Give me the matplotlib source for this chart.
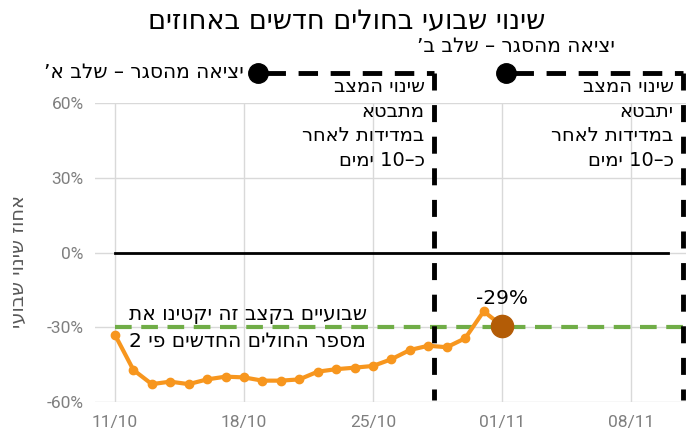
import re
import numpy as np
import pandas as pd
import matplotlib
matplotlib.use('Agg')
import matplotlib.pyplot as plt
import matplotlib.dates as mdates

# weekly change in new cases (%), 11/10 .. 01/11
dates = ['11/10', '12/10', '13/10', '14/10', '15/10', '16/10', '17/10', '18/10',
         '19/10', '20/10', '21/10', '22/10', '23/10', '24/10', '25/10', '26/10',
         '27/10', '28/10', '29/10', '30/10', '31/10', '01/11']
weekly_change = [-33.0, -47.1, -52.8, -51.8, -52.8, -50.9, -49.8, -50.1,
                 -51.4, -51.4, -50.9, -47.8, -46.8, -46.2, -45.5, -42.8,
                 -39.1, -37.4, -38.0, -34.4, -23.6, -29.4]
zero_dates = ['11/10', '10/11']
target_dates = ['11/10', '12/11']
target_value = -30
tick_dates = ['11/10', '18/10', '25/10', '01/11', '08/11']
y_ticks = [-60, -30, 0, 30, 60]

title = 'שינוי שבועי בחולים חדשים באחוזים'
ylabel = 'אחוז שינוי שבועי'
phase_labels = ['יציאה מהסגר – שלב א’', 'יציאה מהסגר – שלב ב’']
box_texts = [['שינוי המצב', 'מתבטא', 'במדידות לאחר', 'כ–10 ימים'],
             ['שינוי המצב', 'יתבטא', 'במדידות לאחר', 'כ–10 ימים']]
target_text = ['שבועיים בקצב זה יקטינו את', 'מספר החולים החדשים פי 2']


def heb(s):
    # no bidi in matplotlib: flip the string, keep numbers readable
    return re.sub(r'\d+', lambda m: m.group()[::-1], s[::-1])


def to_num(ds):
    return mdates.date2num(pd.to_datetime([d + '/2020' for d in ds], format='%d/%m/%Y'))


x = to_num(dates)
x0 = x[0]

fig = plt.figure(figsize=(6.93, 4.38), dpi=100)
ax = fig.add_axes([0.137, 0.082, 0.853, 0.683])

ax.set_xlim(x0 - 1.085, x0 + 30.98)
ax.set_ylim(-60, 60)
ax.set_xticks(to_num(tick_dates))
ax.set_xticklabels(tick_dates)
ax.set_yticks(y_ticks)
ax.set_yticklabels([f'{v}%' for v in y_ticks])
ax.grid(True, color='#d9d9d9', lw=1)
ax.set_axisbelow(True)
for s in ax.spines.values():
    s.set_visible(False)
ax.tick_params(length=0, labelcolor='#7f7f7f', labelsize=12.5)
ax.tick_params(axis='x', pad=9)
ax.tick_params(axis='y', pad=8)
for lbl in ax.get_xticklabels() + ax.get_yticklabels():
    lbl.set_family('Roboto')

ax.plot(to_num(zero_dates), [0, 0], color='black', lw=2, zorder=3)
ax.plot(to_num(target_dates), [target_value] * 2, color='#70ad47', lw=3,
        dashes=(4, 2.3), zorder=3)
ax.plot(x, weekly_change, color='#f7961e', lw=3, marker='o', ms=6, zorder=4)
ax.plot(x[-1], weekly_change[-1], 'o', color='#b35c06', ms=16, zorder=5)
ax.text(x[-1], weekly_change[-1] + 10.8, f'{round(weekly_change[-1])}%',
        ha='center', va='center', fontsize=14.5, zorder=6)

ax.set_ylabel(heb(ylabel), fontsize=14, color='#595959')
ax.yaxis.set_label_coords(-0.113, 0.47)

# dashed "lockdown exit" brackets
box_left = [x0 + 7.75, x0 + 21.2]
box_right = [x0 + 17.3, x0 + 30.8]
top = 72.2
for i in range(2):
    ax.plot([box_left[i] + 0.45, box_right[i]], [top, top], color='black', lw=3.5,
            dashes=(4, 2.6), clip_on=False, zorder=5)
    ax.plot([box_right[i], box_right[i]], [top, -59], color='black', lw=3.5,
            dashes=(3.5, 3), clip_on=False, zorder=5)
    ax.plot(box_left[i], top, 'o', color='black', ms=14, clip_on=False, zorder=6)
    for j, line in enumerate(box_texts[i]):
        ax.text(box_right[i] - 0.5, top - 5.6 - j * 9.9, heb(line), ha='right',
                va='center', fontsize=14, zorder=6)

ax.text(box_left[0] - 0.75, top, heb(phase_labels[0]), ha='right', va='center',
        fontsize=14.5, clip_on=False)
fig.text(615 / 693, 1 - 47 / 438, heb(phase_labels[1]), ha='right', va='center',
         fontsize=14.5)

for j, line in enumerate(target_text):
    ax.text(x0 + 7.2, -24.8 - j * 10.8, heb(line), ha='center', va='center',
            fontsize=14.5, zorder=6)

fig.text(0.5, 1 - 22 / 438, heb(title), ha='center', va='center', fontsize=19.5)

fig.savefig('out.png', dpi=100)
